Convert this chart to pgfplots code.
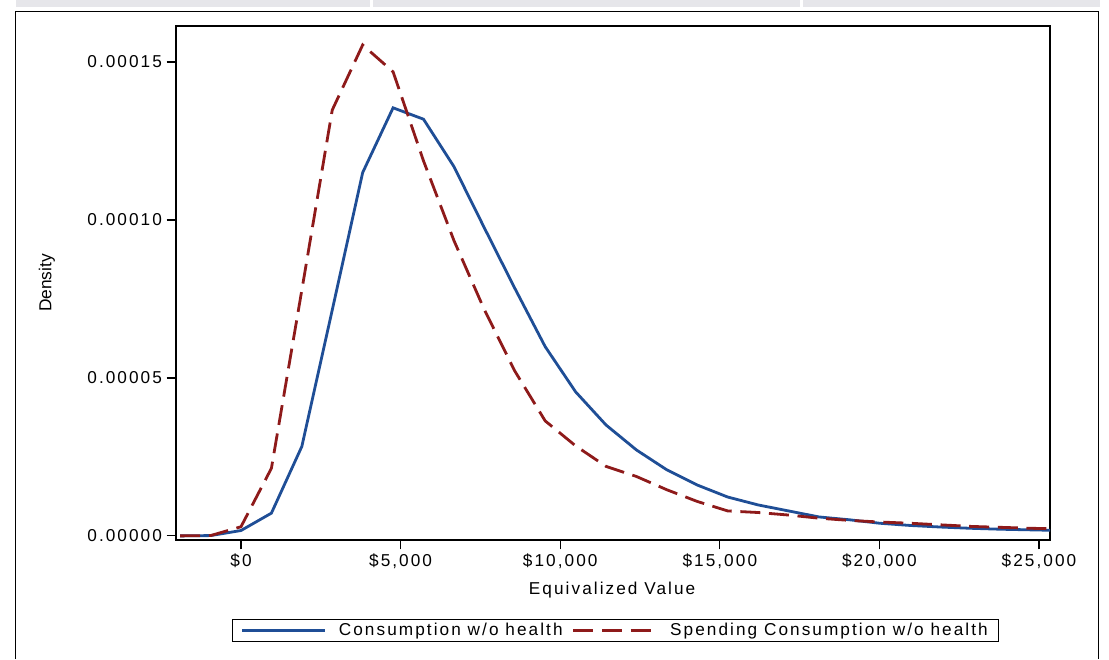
\documentclass[border=0pt]{standalone}
\usepackage{fontspec}
\setmainfont{Liberation Sans}
\newfontfamily\spaced[LetterSpace=12]{Liberation Sans}
\usepackage{pgfplots}
\pgfplotsset{compat=1.18}
\definecolor{sasblue}{HTML}{1F4E96}
\definecolor{sasred}{HTML}{8E1A1A}
\definecolor{bandgray}{HTML}{E6E6EA}
\newcommand{\lbl}{\spaced\fontsize{12.9}{15}\selectfont}

% densities
\usepackage{pgfplotstable}
\pgfplotstableread{
x      cons       spend
-1906  0          0
-953   0.0000001  0.0000001
0      0.0000017  0.0000029
953    0.0000072  0.0000214
1906   0.0000283  0.0000778
2859   0.0000715  0.0001348
3812   0.0001150  0.0001554
4765   0.0001355  0.0001469
5718   0.0001319  0.0001187
6671   0.0001169  0.0000935
7624   0.0000975  0.0000716
8577   0.0000784  0.0000522
9530   0.0000599  0.0000364
10483  0.0000456  0.0000285
11436  0.0000351  0.0000220
12389  0.0000272  0.0000188
13342  0.0000209  0.0000146
14295  0.0000161  0.0000109
15248  0.0000123  0.0000079
16201  0.0000098  0.0000074
17154  0.0000079  0.0000066
18107  0.0000060  0.0000056
19060  0.0000051  0.0000049
20013  0.0000040  0.0000044
20966  0.0000033  0.0000040
21919  0.0000028  0.0000035
22872  0.0000024  0.0000030
23825  0.0000021  0.0000027
24778  0.0000019  0.0000024
25731  0.0000017  0.0000022
}\dens

\begin{document}
\begin{tikzpicture}
\begin{axis}[
  anchor=south west,
  width=655.5pt, height=385.5pt, scale only axis,
  xmin=-2036, xmax=25345,
  ymin=-0.0000013, ymax=0.0001614,
  scaled x ticks=false, scaled y ticks=false,
  xtick={0,5000,10000,15000,20000,25000},
  xticklabels={{\$0},{\$5,000},{\$10,000},{\$15,000},{\$20,000},{\$25,000}},
  ytick={0,0.00005,0.0001,0.00015},
  yticklabels={0.00000,0.00005,0.00010,0.00015},
  xtick pos=lower, ytick pos=left,
  tick align=outside, major tick length=7pt,
  tick style={black,line width=0.9pt},
  axis line style={line width=0.9pt},
  ticklabel style={font=\lbl},
  xlabel={Equivalized Value},
  xlabel style={font=\lbl, at={(axis description cs:0.499,-0.097)}, anchor=center},
  ylabel={Density},
  ylabel style={font=\fontsize{13}{15}\selectfont, at={(axis description cs:-0.1476,0.5)}, anchor=center},
  legend columns=2,
  legend cell align=left,
  legend image code/.code={\draw[#1] (0pt,0pt) -- (62pt,0pt);},
  legend style={at={(axis description cs:0.503,-0.176)}, anchor=center,
    draw=black, line width=1pt, font=\lbl,
    inner xsep=6pt, inner ysep=1pt,
    /tikz/every odd column/.append style={column sep=7.5pt},
    /tikz/every even column/.append style={column sep=5pt}},
]
\addplot[sasblue, line width=2.1pt] table[x=x,y=cons] {\dens};
\addlegendentry{Consumption w/o health}
\addplot[sasred, line width=2.1pt, dash pattern=on 15pt off 6.5pt] table[x=x,y=spend] {\dens};
\addlegendentry{Spending Consumption w/o health}
\end{axis}
% page in pixel units: origin at bottom-left of the image
\begin{scope}[x=0.75pt,y=0.75pt,shift={(-176,-114)}]
% cut-off table row above the graph
\fill[bandgray] (16,646.5) rectangle (1100,654);
\fill[white] (369.5,646.5) rectangle (372.5,654);
\fill[white] (799.5,646.5) rectangle (802.5,654);
\draw[line width=1.4pt] (15.5,-5) -- (15.5,642.5) -- (1098.5,642.5) -- (1098.5,-5);
\useasboundingbox (0,0) rectangle (1109,654);
\end{scope}
\end{tikzpicture}
\end{document}
